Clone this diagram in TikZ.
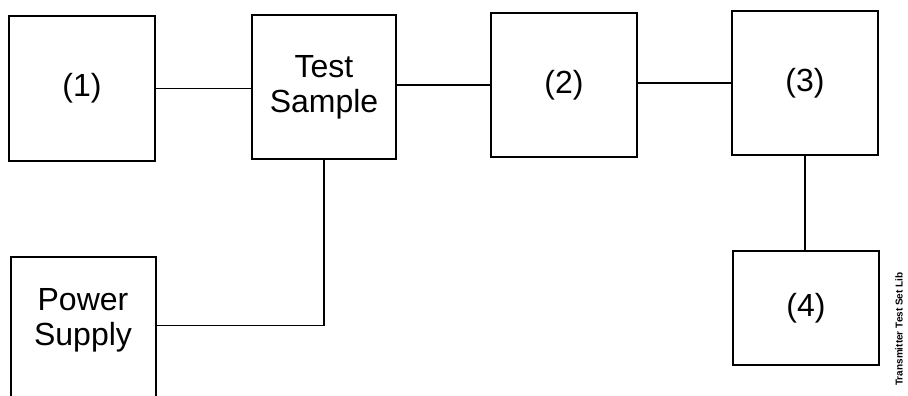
\documentclass[tikz,border=0pt]{standalone}
\usepackage{fontspec}
\setmainfont{Liberation Sans}
\begin{document}
\begin{tikzpicture}[x=0.75pt,y=-0.75pt,
  blk/.style={draw=black,line width=1pt,inner sep=0pt,align=center,
    font=\fontsize{24}{26}\selectfont},
  wire/.style={draw=black,line width=1pt}]
\useasboundingbox (0,0) rectangle (908,396);
\node[blk,minimum width=146*0.75pt,minimum height=145*0.75pt] (b1) at (82,88.5) {(1)};
\node[blk,minimum width=144*0.75pt,minimum height=144*0.75pt] (ts) at (324,87) {Test\\Sample};
\node[blk,minimum width=146*0.75pt,minimum height=144*0.75pt] (b2) at (564,85) {(2)};
\node[blk,minimum width=146*0.75pt,minimum height=144*0.75pt] (b3) at (805,83) {(3)};
\node[blk,minimum width=146*0.75pt,minimum height=114*0.75pt] (b4) at (806,308) {(4)};
\node[blk,minimum width=145*0.75pt,minimum height=150*0.75pt] (ps) at (83.5,332) {};
\node[align=center,inner sep=0pt,font=\fontsize{24}{26}\selectfont] (pst) at (83,320) {Power\\Supply};
\path (ps.north east) ++(0,69) coordinate (psin);
\node[rotate=90,inner sep=0pt,font=\fontsize{7.5}{8}\selectfont\bfseries] (lib) at (899,329) {Transmitter Test Set Lib};
\draw[wire] (b1.east) -- (b1.east -| ts.west);
\draw[wire] (b2.west -| ts.east) -- (b2.west);
\draw[wire] (b3.west -| b2.east) -- (b3.west);
\draw[wire] (b3.south) -- (b3.south |- b4.north);
\draw[wire] (ts.south) |- (psin);
\end{tikzpicture}
\end{document}
